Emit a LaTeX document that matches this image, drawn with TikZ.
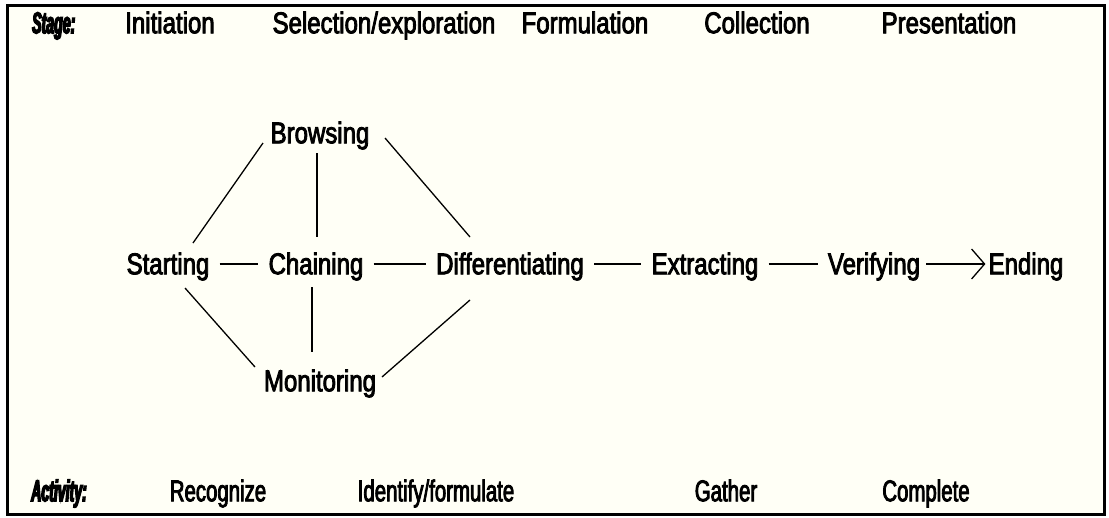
\documentclass[tikz,border=0pt]{standalone}
\usepackage{fontspec}
\setmainfont{Liberation Sans}[FakeStretch=0.8, FakeBold=2.8]
\newfontfamily\hdrfont{Liberation Sans}[FakeStretch=0.47, FakeBold=4.5]
\newfontfamily\actfont{Liberation Sans}[FakeStretch=0.68, FakeBold=2.8]
\usetikzlibrary{arrows.meta,calc}
\definecolor{bgcream}{RGB}{255,255,246}
\begin{document}
\begin{tikzpicture}[x=1pt,y=-1pt,
  lbl/.style={inner sep=0pt, font=\fontsize{30}{36}\selectfont, text height=20.5pt, text depth=0pt},
  act/.style={lbl, font=\fontsize{30}{36}\selectfont\actfont},
  hdr/.style={lbl, anchor=west, font=\fontsize{30}{36}\selectfont\hdrfont\bfseries\itshape},
  conn/.style={line width=1.3pt, black},
  hconn/.style={conn, shorten <=10pt, shorten >=10pt},
]
\useasboundingbox (0,0) rectangle (1109,517);
\draw[line width=3pt, fill=bgcream] (7,5) rectangle (1104,514);

% stage row
\node[hdr] (stage) at (32,23) {Stage:};
\node[lbl] (initiation) at (170,23) {Initiation};
\node[lbl] (selection) at (384,23) {Selection/exploration};
\node[lbl] (formulation) at (585,23) {Formulation};
\node[lbl] (collection) at (757,23) {Collection};
\node[lbl] (presentation) at (949,23) {Presentation};

% graph
\node[lbl] (browsing) at (320,133) {Browsing};
\node[lbl] (starting) at (168,264) {Starting};
\node[lbl] (chaining) at (316,264) {Chaining};
\node[lbl] (diff) at (510,264) {Differentiating};
\node[lbl] (extracting) at (705,264) {Extracting};
\node[lbl] (verifying) at (874,264) {Verifying};
\node[lbl] (ending) at (1026,264) {Ending};
\node[lbl] (monitoring) at (320,381) {Monitoring};

\draw[conn] ($(starting)+(25,-21)$) -- ($(browsing)+(-57,10)$);
\draw[conn] ($(browsing)+(65,5)$) -- ($(diff)+(-40,-27)$);
\draw[conn] ($(browsing)+(-3,20)$) -- ($(chaining)+(1,-27)$);
\draw[conn] ($(chaining)+(-4,23)$) -- ($(monitoring)+(-8,-29)$);
\draw[conn] ($(starting)+(17,24)$) -- ($(monitoring)+(-65,-14)$);
\draw[conn] ($(monitoring)+(62,-4)$) -- ($(diff)+(-40,36)$);

\draw[hconn] (starting.east) -- (chaining.west);
\draw[hconn] (chaining.east) -- (diff.west);
\draw[hconn] (diff.east) -- (extracting.west);
\draw[hconn] (extracting.east) -- (verifying.west);
\draw[conn, shorten <=6pt, shorten >=3pt, -{Straight Barb[length=13pt,width=30pt,line width=1.3pt]}] (verifying.east) -- (ending.west);

% activity row
\node[hdr] (activity) at (31,491) {Activity:};
\node[act] (recognize) at (218,491) {Recognize};
\node[act] (identify) at (436,491) {Identify/formulate};
\node[act] (gather) at (726,491) {Gather};
\node[act] (complete) at (926,491) {Complete};
\end{tikzpicture}
\end{document}
